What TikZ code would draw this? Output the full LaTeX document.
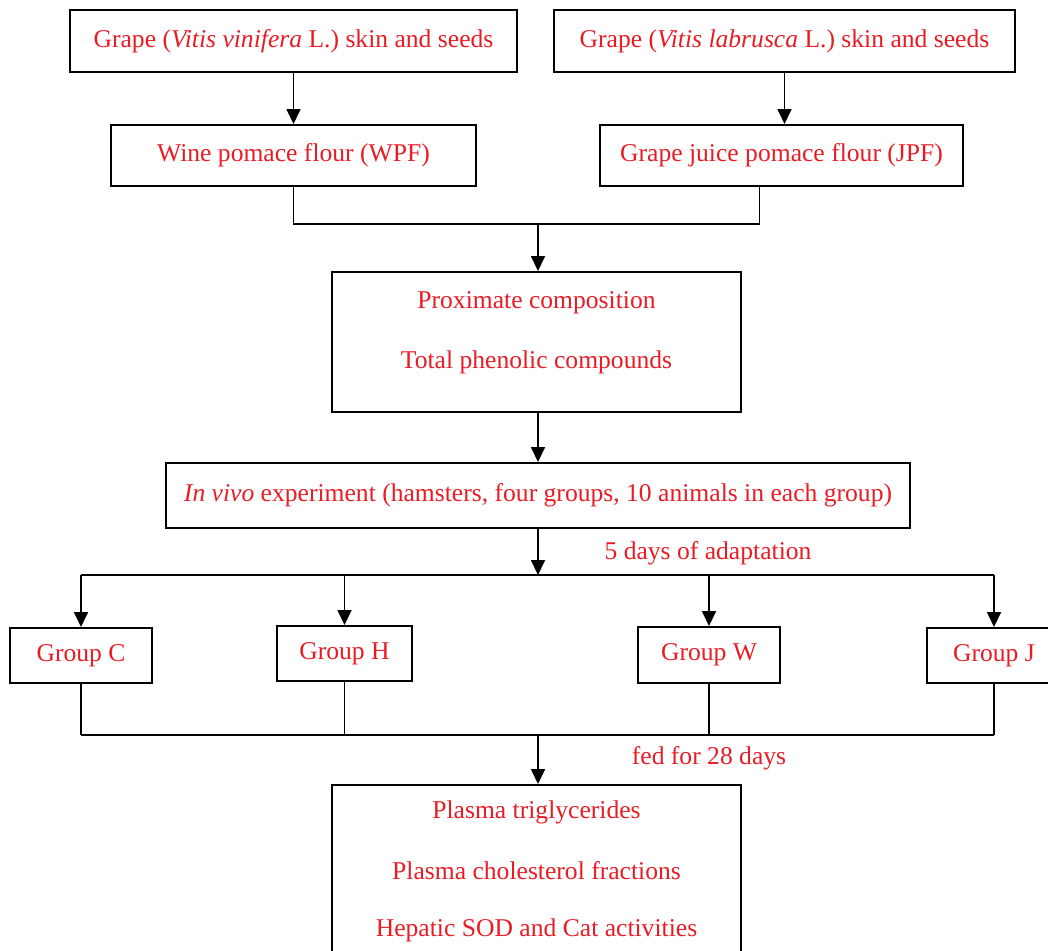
\documentclass[tikz,border=0pt]{standalone}
\usepackage{fontspec}
\setmainfont{Liberation Serif}
\usetikzlibrary{arrows.meta}
\definecolor{txtred}{RGB}{232,28,36}
\tikzset{
  box/.style={draw, line width=1pt, text=txtred, align=center, inner sep=0pt},
  lbl/.style={text=txtred},
  ln/.style={line width=0.85pt},
  arr/.style={ln, -{Triangle[length=7.5pt,width=7pt]}}
}
\begin{document}
\begin{tikzpicture}[x=0.5pt,y=-0.5pt,font=\fontsize{12.8}{15}\selectfont]
            \clip (0,0) rectangle (1048,950);

            % sources
            \node[box, minimum width=223.5pt, minimum height=31pt] (srcv) at (293.5,41) {Grape (\textit{Vitis vinifera} L.) skin and seeds};
            \node[box, minimum width=230.5pt, minimum height=31pt] (srcl) at (784.5,41) {Grape (\textit{Vitis labrusca} L.) skin and seeds};
            \node[box, minimum width=182.5pt, minimum height=30.5pt] (wpf) at (293.5,155.5) {Wine pomace flour (WPF)};
            \node[box, minimum width=181.5pt, minimum height=30.5pt] (jpf) at (781.5,155.5) {Grape juice pomace flour (JPF)};

            % analysis
            \node[box, minimum width=204.5pt, minimum height=70pt] (prox) at (536.5,342) {};
            \node[lbl] (proxa) at (536.5,303) {Proximate composition};
            \node[lbl] (proxb) at (536.5,362) {Total phenolic compounds};

            \node[box, minimum width=372pt, minimum height=32.5pt] (invivo) at (538,495.5) {\textit{In vivo} experiment (hamsters, four groups, 10 animals in each group)};

            % groups
            \node[box, minimum width=71pt, minimum height=27.5pt] (grpc) at (81,655.5) {Group C};
            \node[box, minimum width=67.5pt, minimum height=27.5pt] (grph) at (344.5,653.5) {Group H};
            \node[box, minimum width=71pt, minimum height=28pt] (grpw) at (709,655) {Group W};
            \node[box, minimum width=67pt, minimum height=27.5pt] (grpj) at (994,655.5) {Group J};

            % results
            \node[box, minimum width=204.5pt, minimum height=90pt] (result) at (536.5,875) {};
            \node[lbl] (resa) at (536.5,812) {Plasma triglycerides};
            \node[lbl] (resb) at (536.5,871) {Plasma cholesterol fractions};
            \node[lbl] (resc) at (536.5,930) {Hepatic SOD and Cat activities};

            \node[lbl] (adapt) at (708,553) {5 days of adaptation};
            \node[lbl] (fed) at (709,758) {fed for 28 days};

            \coordinate (j1) at (538,224);
            \coordinate (j2) at (538,575);
            \coordinate (j3) at (538,735);

            \draw[arr] (srcv.south) -- (srcv.south |- wpf.north);
            \draw[arr] (srcl.south) -- (srcl.south |- jpf.north);

            \draw[ln] (wpf.south) |- (j1) -| ([xshift=-11pt]jpf.south);
            \draw[arr] (j1) -- (j1 |- prox.north);
            \draw[arr] (j1 |- prox.south) -- (j1 |- invivo.north);
            \draw[arr] (j2 |- invivo.south) -- (j2);

            \draw[ln] (grpc.north |- j2) -- (grpj.north |- j2);
            \draw[ln] (grpc.south |- j3) -- (grpj.south |- j3);
            \foreach \g in {grpc,grph,grpw,grpj} {
              \draw[arr] (\g.north |- j2) -- (\g.north);
              \draw[ln] (\g.south) -- (\g.south |- j3);
            }
            \draw[arr] (j3) -- (j3 |- result.north);
\end{tikzpicture}
\end{document}
